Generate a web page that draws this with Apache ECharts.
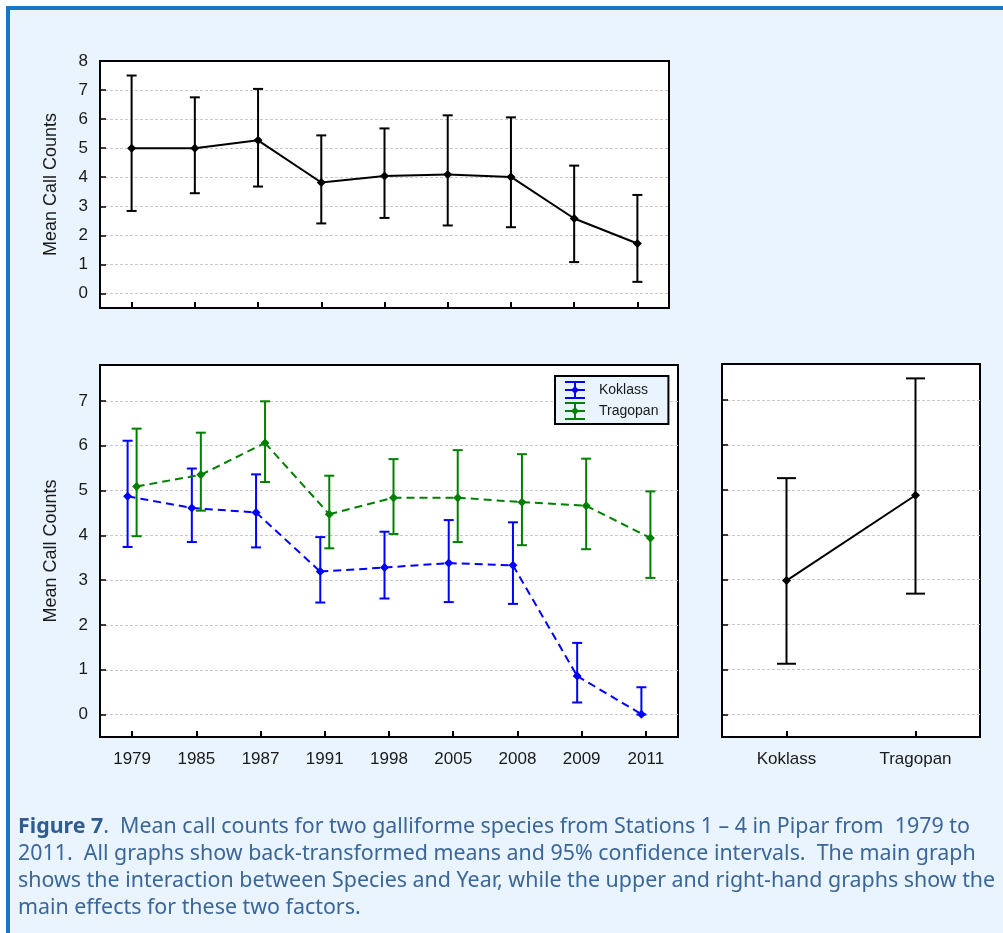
<!DOCTYPE html>
<html>
<head>
<meta charset="utf-8">
<script src="https://cdn.jsdelivr.net/npm/echarts@6/dist/echarts.min.js"></script>
<style>
  html, body { margin: 0; padding: 0; background: #fff; }
  #main { width: 1003px; height: 933px; }
</style>
</head>
<body>
<div id="main"></div>
<script>
// year main effect (upper graph)
var years = ['1979', '1985', '1987', '1991', '1998', '2005', '2008', '2009', '2011'];
var yearMean = [5.00, 5.00, 5.27, 3.82, 4.04, 4.09, 4.01, 2.58, 1.72];
var yearLow  = [2.84, 3.45, 3.68, 2.41, 2.60, 2.34, 2.28, 1.08, 0.40];
var yearHigh = [7.50, 6.75, 7.04, 5.44, 5.68, 6.13, 6.06, 4.40, 3.39];

// species x year interaction (main graph)
var koklassMean  = [4.87, 4.61, 4.51, 3.19, 3.28, 3.38, 3.33, 0.86, 0.01];
var koklassLow   = [3.74, 3.85, 3.73, 2.50, 2.59, 2.51, 2.47, 0.27, 0.00];
var koklassHigh  = [6.11, 5.49, 5.36, 3.96, 4.08, 4.34, 4.29, 1.60, 0.61];
var tragopanMean = [5.09, 5.35, 6.06, 4.47, 4.84, 4.84, 4.74, 4.66, 3.94];
var tragopanLow  = [3.98, 4.55, 5.19, 3.71, 4.03, 3.85, 3.78, 3.69, 3.05];
var tragopanHigh = [6.38, 6.29, 6.99, 5.33, 5.70, 5.90, 5.81, 5.71, 4.98];

// species main effect (right graph)
var species = ['Koklass', 'Tragopan'];
var speciesMean = [2.98, 4.88];
var speciesLow  = [1.13, 2.69];
var speciesHigh = [5.26, 7.48];

var captionLines = [
  '{b|Figure 7}.  Mean call counts for two galliforme species from Stations 1 \u2013 4 in Pipar from  1979 to',
  '2011.  All graphs show back-transformed means and 95% confidence intervals.  The main graph',
  'shows the interaction between Species and Year, while the upper and right-hand graphs show the',
  'main effects for these two factors.'
];

var FONT = 'Liberation Sans, Arial, sans-serif';
var CAP_FONT = 'Noto Sans, DejaVu Sans, sans-serif';
var INK = '#1a1a1a';
var BLUE = '#0000ff';
var GREEN = '#008000';

function makeRender(means, cfg) {
  return function (params, api) {
    var i = api.value(0);
    var p = api.coord([i, api.value(1)]);
    var lo = api.coord([i, api.value(2)]);
    var hi = api.coord([i, api.value(3)]);
    var x = p[0] + cfg.dx;
    var y = p[1];
    var hw = cfg.cap / 2;
    var kids = [];
    if (i < means.length - 1) {
      var q = api.coord([i + 1, means[i + 1]]);
      kids.push({
        type: 'line',
        shape: { x1: x, y1: y, x2: q[0] + cfg.dx, y2: q[1] },
        style: { stroke: cfg.color, lineWidth: 2, lineDash: cfg.dash || null }
      });
    }
    var bar = { stroke: cfg.color, lineWidth: 2 };
    kids.push({ type: 'line', shape: { x1: x, y1: hi[1], x2: x, y2: lo[1] }, style: bar });
    kids.push({ type: 'line', shape: { x1: x - hw, y1: hi[1], x2: x + hw, y2: hi[1] }, style: bar });
    kids.push({ type: 'line', shape: { x1: x - hw, y1: lo[1], x2: x + hw, y2: lo[1] }, style: bar });
    kids.push({
      type: 'polygon',
      shape: { points: [[x, y - 4.5], [x + 4.5, y], [x, y + 4.5], [x - 4.5, y]] },
      style: { fill: cfg.color }
    });
    return { type: 'group', children: kids };
  };
}

function rows(means, lows, highs) {
  return means.map(function (m, i) { return [i, m, lows[i], highs[i]]; });
}

function catAxis(gridIndex, data, showLabel) {
  return {
    type: 'category', gridIndex: gridIndex, data: data,
    boundaryGap: true,
    axisLine: { show: true, onZero: false, lineStyle: { color: '#000', width: 2 } },
    axisTick: { show: true, inside: true, alignWithLabel: true, length: 6, lineStyle: { color: '#000', width: 2 } },
    axisLabel: { show: showLabel, fontSize: 17, fontFamily: FONT, color: INK, margin: 14 },
    splitLine: { show: false }
  };
}

function valAxis(gridIndex, max, showLabel, name) {
  return {
    type: 'value', gridIndex: gridIndex, min: -0.5, max: max, splitNumber: 8,
    name: name || '', nameLocation: 'middle', nameGap: 40, nameRotate: 90,
    nameTextStyle: { fontSize: 18, fontFamily: FONT, color: INK },
    axisLine: { show: true, onZero: false, lineStyle: { color: '#000', width: 2 } },
    axisTick: { show: true, inside: true, length: 6, lineStyle: { color: '#000', width: 1.5 } },
    axisLabel: {
      show: showLabel, fontSize: 17, fontFamily: FONT, color: INK, margin: 12,
      formatter: function (v) { return Number.isInteger(v) ? String(Math.abs(v)) : ''; }
    },
    splitLine: {
      show: true, showMinLine: false, showMaxLine: false,
      lineStyle: { color: '#c8c8c8', width: 1, type: [3, 2] }
    }
  };
}

var legendIcon = 'path://M0,0H20V2H0Z M9,0H11V18H9Z M0,16H20V18H0Z M0,8H20V10H0Z M10,5L14,9L10,13L6,9Z';

var chart = echarts.init(document.getElementById('main'), null, { renderer: 'canvas' });

var captionGraphics = captionLines.map(function (t, k) {
  return {
    type: 'text', left: 18, top: 816 + k * 27.3, z: 10,
    style: {
      text: t, fill: '#3b6698', fontSize: 21.4, fontFamily: CAP_FONT,
      rich: { b: { fontWeight: 'bold', fill: '#2f5d92', fontSize: 21.4, fontFamily: CAP_FONT } }
    }
  };
});

chart.setOption({
  backgroundColor: '#fff',
  animation: false,
  graphic: [
    {
      type: 'rect', z: -10, silent: true,
      shape: { x: 8, y: 8, width: 1200, height: 1100 },
      style: { fill: '#e9f4fe', stroke: '#1a76c0', lineWidth: 4 }
    }
  ].concat(captionGraphics),
  grid: [
    { left: 100, top: 61, width: 569, height: 247, show: true, backgroundColor: '#fff', borderColor: '#000', borderWidth: 2 },
    { left: 100, top: 365, width: 578, height: 372, show: true, backgroundColor: '#fff', borderColor: '#000', borderWidth: 2 },
    { left: 722, top: 364, width: 258, height: 373, show: true, backgroundColor: '#fff', borderColor: '#000', borderWidth: 2 }
  ],
  xAxis: [
    catAxis(0, years, false),
    catAxis(1, years, true),
    catAxis(2, species, true)
  ],
  yAxis: [
    valAxis(0, 8, true, 'Mean Call Counts'),
    valAxis(1, 7.8, true, 'Mean Call Counts'),
    valAxis(2, 7.8, false)
  ],
  legend: {
    left: 555, top: 376, orient: 'vertical',
    backgroundColor: '#e9f4fe', borderColor: '#000', borderWidth: 2,
    padding: [5, 10, 4, 10], itemGap: 3, itemWidth: 20, itemHeight: 18,
    textStyle: { fontSize: 14, fontFamily: FONT, color: INK, padding: [0, 0, 0, 9] },
    data: [
      { name: 'Koklass', icon: legendIcon },
      { name: 'Tragopan', icon: legendIcon }
    ]
  },
  series: [
    {
      name: 'Year', type: 'custom', xAxisIndex: 0, yAxisIndex: 0,
      itemStyle: { color: '#000' },
      renderItem: makeRender(yearMean, { color: '#000', dx: 0, cap: 10 }),
      data: rows(yearMean, yearLow, yearHigh)
    },
    {
      name: 'Koklass', type: 'custom', xAxisIndex: 1, yAxisIndex: 1,
      itemStyle: { color: BLUE },
      renderItem: makeRender(koklassMean, { color: BLUE, dx: -4.5, cap: 10, dash: [8, 5] }),
      data: rows(koklassMean, koklassLow, koklassHigh)
    },
    {
      name: 'Tragopan', type: 'custom', xAxisIndex: 1, yAxisIndex: 1,
      itemStyle: { color: GREEN },
      renderItem: makeRender(tragopanMean, { color: GREEN, dx: 4.5, cap: 10, dash: [8, 5] }),
      data: rows(tragopanMean, tragopanLow, tragopanHigh)
    },
    {
      name: 'Species', type: 'custom', xAxisIndex: 2, yAxisIndex: 2,
      itemStyle: { color: '#000' },
      renderItem: makeRender(speciesMean, { color: '#000', dx: 0, cap: 19 }),
      data: rows(speciesMean, speciesLow, speciesHigh)
    }
  ]
});
</script>
</body>
</html>
